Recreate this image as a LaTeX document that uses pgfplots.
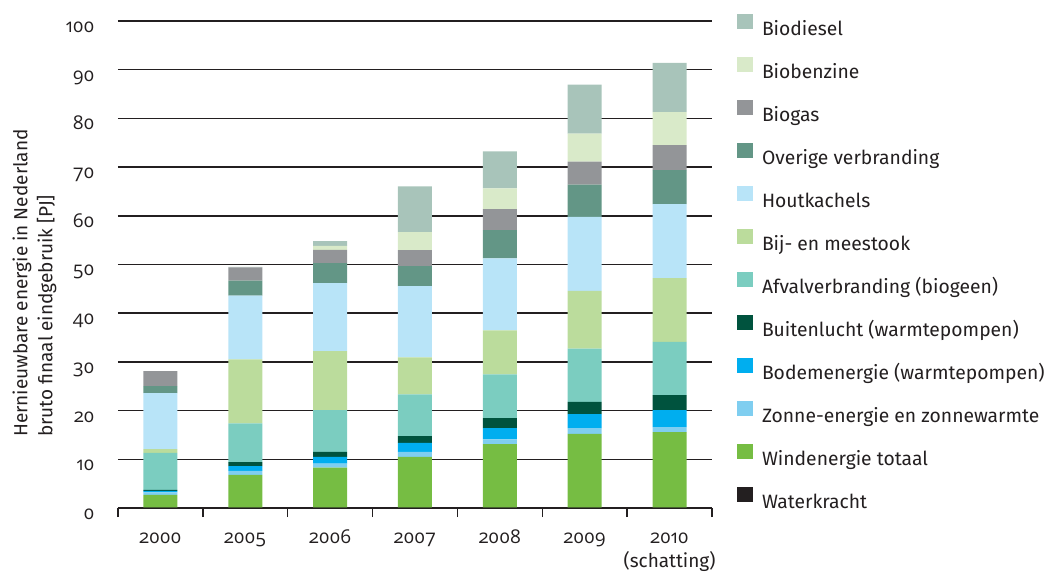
\documentclass[border=0pt]{standalone}
\usepackage{pgfplots}
\pgfplotsset{compat=1.18}
\usepackage{pgfplotstable}
\usepackage{fontspec}
\setmainfont{Fira Sans}
\newfontfamily\osf{Open Sans}[Numbers=OldStyle]
\definecolor{cWater}{HTML}{231F20}
\definecolor{cWind}{HTML}{76BD43}
\definecolor{cZonne}{HTML}{7FCEF0}
\definecolor{cBodem}{HTML}{00AEEF}
\definecolor{cBuiten}{HTML}{00533E}
\definecolor{cAfval}{HTML}{7BCDC0}
\definecolor{cBij}{HTML}{BBDC9C}
\definecolor{cHout}{HTML}{B8E4F8}
\definecolor{cOverige}{HTML}{639686}
\definecolor{cBiogas}{HTML}{939598}
\definecolor{cBiobenz}{HTML}{D9EAC9}
\definecolor{cBiodiesel}{HTML}{A8C4BA}
\definecolor{gridc}{HTML}{231F20}
\pgfplotstableread{
x water wind zonne bodem buiten afval bij hout overige biogas biobenz biodiesel
0 0.1 2.6 0.5 0.3 0.2 7.6 0.8 11.5 1.4 3.1 0.0 0.0
1 0.1 6.7 0.8 1.0 0.8 8.0 13.1 13.1 3.1 2.7 0.0 0.1
2 0.1 8.2 0.8 1.4 1.0 8.6 12.1 14.0 4.1 2.7 0.8 1.0
3 0.1 10.4 1.0 1.85 1.4 8.6 7.6 14.6 4.1 3.3 3.7 9.4
4 0.1 13.0 1.0 2.3 2.05 9.0 9.0 14.8 5.8 4.3 4.3 7.6
5 0.1 15.1 1.2 2.9 2.5 10.9 11.9 15.2 6.6 4.7 5.75 10.1
6 0.1 15.5 1.0 3.5 3.1 10.9 13.1 15.2 7.0 5.1 6.8 10.1
}\datatable
\begin{document}
\begin{tikzpicture}
\begin{axis}[
  at={(0,0)}, anchor=south west,
  scale only axis, width=594pt, height=487pt,
  ybar stacked, bar width=34pt,
  xmin=-0.5, xmax=6.5, ymin=0, ymax=100,
  xtick={0,...,6},
  xticklabels={\mbox{\osf 2000},\mbox{\osf 2005},\mbox{\osf 2006},\mbox{\osf 2007},\mbox{\osf 2008},\mbox{\osf 2009},{\begin{tabular}[t]{@{}c@{}}\osf 2010\\\fontsize{19}{24.5}\selectfont (schatting)\end{tabular}}},
  minor xtick={-0.5,0.5,...,6.5},
  ytick={0,10,...,100},
  yticklabels={\mbox{\osf 0},\mbox{\osf 10},\mbox{\osf 20},\mbox{\osf 30},\mbox{\osf 40},\mbox{\osf 50},\mbox{\osf 60},\mbox{\osf 70},\mbox{\osf 80},\mbox{\osf 90},\mbox{\osf 100}},
  major tick length=0pt, minor tick length=9pt,
  tick align=outside,
  minor x tick style={gridc, line width=1.5pt},
  ymajorgrids,
  major grid style={gridc, line width=1.5pt},
  axis x line*=bottom, axis y line*=left,
  y axis line style={draw=none},
  x axis line style={gridc, line width=1.5pt},
  /pgf/number format/assume math mode=true,
  ticklabel style={font=\fontsize{19}{24.5}\selectfont, text=gridc},
  yticklabel style={anchor=base east, xshift=-20pt, yshift=-11.5pt},
  xticklabel style={anchor=base, yshift=-35pt},
  ylabel={Hernieuwbare energie in Nederland\\bruto finaal eindgebruik [PJ]},
  ylabel style={at={(rel axis cs:-0.178,0.1458)}, anchor=north west, align=left, inner sep=0pt, font=\fontsize{19}{25}\selectfont, text=gridc},
  reverse legend,
  legend image code/.code={\fill[#1, draw=none] (0pt,-0.5pt) rectangle (16pt,14.5pt);},
  legend cell align=left,
  legend style={at={(rel axis cs:1.0421,1.0144)}, anchor=north west, draw=none, fill=none,
    inner sep=0pt, outer sep=0pt, row sep=21pt,
    font=\fontsize{19.3}{24}\selectfont, text=gridc,
    nodes={inner sep=0pt, text height=14.5pt, text depth=0.5pt},
    /tikz/every odd column/.append style={column sep=9pt}},
]
\addplot[fill=cWater, draw=none] table[x=x,y=water]{\datatable};
\addplot[fill=cWind, draw=none] table[x=x,y=wind]{\datatable};
\addplot[fill=cZonne, draw=none] table[x=x,y=zonne]{\datatable};
\addplot[fill=cBodem, draw=none] table[x=x,y=bodem]{\datatable};
\addplot[fill=cBuiten, draw=none] table[x=x,y=buiten]{\datatable};
\addplot[fill=cAfval, draw=none] table[x=x,y=afval]{\datatable};
\addplot[fill=cBij, draw=none] table[x=x,y=bij]{\datatable};
\addplot[fill=cHout, draw=none] table[x=x,y=hout]{\datatable};
\addplot[fill=cOverige, draw=none] table[x=x,y=overige]{\datatable};
\addplot[fill=cBiogas, draw=none] table[x=x,y=biogas]{\datatable};
\addplot[fill=cBiobenz, draw=none] table[x=x,y=biobenz]{\datatable};
\addplot[fill=cBiodiesel, draw=none] table[x=x,y=biodiesel]{\datatable};
\legend{Waterkracht, Windenergie totaal, Zonne-energie en zonnewarmte, Bodemenergie (warmtepompen), Buitenlucht (warmtepompen), Afvalverbranding (biogeen), Bij- en meestook, Houtkachels, Overige verbranding, Biogas, Biobenzine, Biodiesel}
\end{axis}
\pgfresetboundingbox
\useasboundingbox (-118pt,-64pt) rectangle (930pt,508pt);
\end{tikzpicture}
\end{document}
